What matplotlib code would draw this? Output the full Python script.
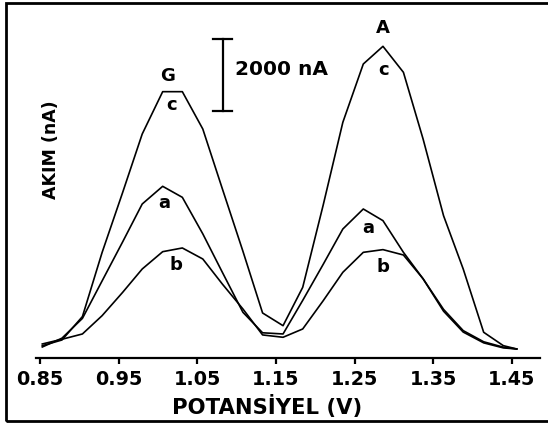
import numpy as np
import matplotlib.pyplot as plt
from matplotlib.patches import Rectangle

# Potansiyel (V) ve akim (nA) degerleri
potansiyel = [0.853, 0.878, 0.904, 0.929, 0.955, 0.980, 1.006, 1.031, 1.057, 1.082,
              1.108, 1.133, 1.159, 1.184, 1.210, 1.235, 1.261, 1.286, 1.312, 1.337,
              1.363, 1.388, 1.414, 1.439, 1.456]

akim_a = [305, 550, 1100, 2140, 3220, 4278, 4769, 4463, 3448, 2374,
          1269, 700, 667, 1600, 2600, 3583, 4139, 3815, 2935, 2200,
          1300, 720, 420, 280, 250]

akim_b = [389, 520, 667, 1175, 1820, 2472, 2953, 3056, 2750, 2050,
          1361, 640, 575, 806, 1590, 2380, 2935, 3010, 2861, 2200,
          1350, 760, 450, 300, 250]

akim_c = [342, 500, 1150, 2930, 4590, 6222, 7398, 7398, 6361, 4690,
          2965, 1250, 897, 1963, 4246, 6547, 8167, 8658, 7936, 6083,
          3953, 2472, 714, 342, 250]

xticks = [0.85, 0.95, 1.05, 1.15, 1.25, 1.35, 1.45]
xtick_labels = ['0.85', '0.95', '1.05', '1.15', '1.25', '1.35', '1.45']

fig = plt.figure(figsize=(5.48, 4.27), dpi=100)
ax = fig.add_axes([0.0657, 0.1593, 0.9197, 0.8173])

for akim in [akim_a, akim_b, akim_c]:
    ax.plot(potansiyel, akim, color='black', linewidth=1.2)

ax.set_xlim(0.845, 1.4856)
ax.set_ylim(0, 9695)

# Eksenler: sadece alt cizgi
for s in ['left', 'top', 'right']:
    ax.spines[s].set_visible(False)
ax.spines['bottom'].set_linewidth(1.6)
ax.set_yticks([])
ax.set_xticks(xticks)
ax.set_xticklabels(xtick_labels, fontsize=13.8, fontweight='bold')
ax.tick_params(axis='x', direction='out', length=4, width=1.6, pad=4)

# Olcek cubugu (2000 nA)
bar_x = 1.0822
bar_y0 = 6861
ax.plot([bar_x, bar_x], [bar_y0, bar_y0 + 2000], color='black', linewidth=1.6)
ax.plot([bar_x - 0.012, bar_x + 0.012], [bar_y0, bar_y0], color='black', linewidth=1.6)
ax.plot([bar_x - 0.012, bar_x + 0.012], [bar_y0 + 2000, bar_y0 + 2000], color='black', linewidth=1.6)
ax.text(1.0979, 8028, '2000 nA', fontsize=14.5, fontweight='bold', ha='left', va='center')

# Pik etiketleri
etiketler = [('G', 1.0127, 7861), ('c', 1.0178, 7056), ('a', 1.008, 4325), ('b', 1.0229, 2611),
             ('A', 1.2864, 9195), ('c', 1.2873, 8028), ('a', 1.2673, 3631), ('b', 1.2864, 2564)]
for t, x, y in etiketler:
    ax.text(x, y, t, fontsize=13, fontweight='bold', ha='center', va='center')

fig.text(267 / 548, 1 - 407 / 427, 'POTANSİYEL (V)', fontsize=15.2, fontweight='bold',
         ha='center', va='center')
fig.text(51 / 548, 1 - 150 / 427, 'AKIM (nA)', fontsize=12.5, fontweight='bold',
         ha='center', va='center', rotation=90)

# Dis cerceve
fig.patches.append(Rectangle((6 / 548, 5 / 427), 1.2, (418 / 427), transform=fig.transFigure,
                             fill=False, edgecolor='black', linewidth=2))

fig.savefig('out.png', dpi=100)
